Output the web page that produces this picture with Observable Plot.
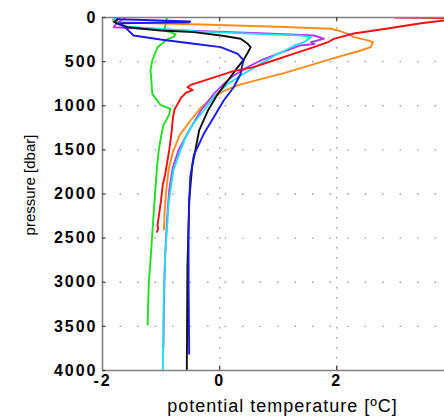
<!DOCTYPE html>
<html><head><meta charset="utf-8">
<script src="https://cdn.jsdelivr.net/npm/d3@7"></script>
<script src="https://cdn.jsdelivr.net/npm/@observablehq/plot@0.6"></script>
<style>
html,body{margin:0;padding:0;background:#fff;overflow:hidden}
</style>
</head><body><div id="chart"></div>
<script>
// potential temperature [ºC] / pressure [dbar] per profile
const greenT = [-0.90,-0.92,-0.95,-0.84,-0.75,-0.79,-0.89,-1.06,-1.15,-1.18,-1.17,-1.15,-1.01,-0.84,-0.86,-0.96,-1.00,-1.04,-1.07,-1.09,-1.12,-1.15,-1.18,-1.21,-1.23];
const greenP = [0,71,147,166,190,223,245,336,487,600,676,865,990,1035,1100,1220,1350,1507,1700,1885,2150,2450,2750,3014,3480];
const orangeT = [-1.70,-1.82,-1.81,-0.32,1.00,1.90,2.02,2.19,2.29,2.53,2.62,2.58,2.41,1.95,1.50,1.10,0.75,0.30,0.05,-0.15,-0.32,-0.50,-0.68,-0.80,-0.87,-0.91,-0.94,-0.95];
const orangeP = [0,30,53,80,105,128,147,185,223,260,280,336,374,460,550,630,690,770,840,930,1020,1170,1330,1530,1720,1950,2200,2400];
const magentaT = [-1.60,-1.75,-1.81,-0.50,0.80,1.61,1.78,1.56,1.62,1.38,1.20,0.99,0.70,0.48,0.24,0.07,-0.10,-0.32,-0.55,-0.70,-0.80,-0.86,-0.90,-0.93,-0.95,-0.96];
const magentaP = [0,60,110,150,180,204,241,280,300,317,360,411,487,563,657,752,865,1054,1315,1500,1700,1950,2300,2700,3200,3740];
const cyanT = [-1.70,-1.82,-1.75,-1.60,-0.30,0.60,1.40,1.56,1.44,1.27,1.10,0.99,0.70,0.41,0.14,-0.10,-0.27,-0.45,-0.58,-0.69,-0.79,-0.87,-0.90,-0.93,-0.95,-0.96,-0.97];
const cyanP = [0,20,60,100,160,185,205,225,280,320,380,411,525,638,752,903,1054,1200,1356,1545,1734,2100,2414,2700,3014,3500,4000];
const blackT = [-1.75,-1.72,-1.80,-1.74,-1.57,-1.01,-0.44,0.02,0.36,0.48,0.53,0.48,0.41,0.31,0.14,-0.03,-0.20,-0.35,-0.47,-0.52,-0.55,-0.56];
const blackP = [0,10,50,71,110,147,166,204,241,298,336,400,480,563,714,865,1054,1280,1696,2074,2830,4000];
const blueT = [-1.75,-1.70,-0.50,-0.53,-1.72,-1.60,-1.47,-1.01,-0.44,0.02,0.31,0.41,0.38,0.36,0.24,0.07,-0.10,-0.27,-0.44,-0.50,-0.52,-0.53,-0.53,-0.52];
const blueP = [0,20,45,55,65,120,204,250,298,336,411,487,560,638,790,940,1130,1318,1560,1800,2100,2450,3000,3810];
const redT = [3.00,4.30,3.83,3.44,2.87,2.29,1.95,1.85,1.61,1.27,0.92,0.58,0.22,-0.12,-0.48,-0.55,-0.46,-0.57,-0.66,-0.72,-0.77,-0.80,-0.82,-0.86,-0.91,-0.93,-0.97,-1.00,-1.04,-1.06,-1.05,-1.07];
const redP = [0,8,34,65,125,181,242,280,336,410,487,563,610,685,760,790,822,850,910,985,1040,1150,1300,1500,1700,1780,1890,2070,2260,2350,2400,2430];

const profiles = [
  {name: "green", color: "#22dd22", T: greenT, P: greenP},
  {name: "orange", color: "#ff8c1a", T: orangeT, P: orangeP},
  {name: "magenta", color: "#b03cf0", T: magentaT, P: magentaP},
  {name: "cyan", color: "#20e0f0", T: cyanT, P: cyanP},
  {name: "black", color: "#111111", T: blackT, P: blackP},
  {name: "blue", color: "#1a1ae6", T: blueT, P: blueP},
  {name: "red", color: "#f01010", T: redT, P: redP}
];
const rows = profiles.flatMap(p => p.T.map((t, i) => ({name: p.name, color: p.color, T: t, P: p.P[i]})));

const xTicks = [-2, 0, 2];
const yTicks = [0, 500, 1000, 1500, 2000, 2500, 3000, 3500, 4000];
const xGrid = [0, 2];
const yGrid = [500, 1000, 1500, 2000, 2500, 3000, 3500];
const xLabel = "potential temperature [ºC]";
const yLabel = "pressure [dbar]";

const chart = Plot.plot({
  width: 444, height: 416,
  marginLeft: 102, marginRight: 0, marginTop: 17, marginBottom: 46,
  style: {fontFamily: "'Liberation Sans', Arial, sans-serif", fontSize: "16px", color: "#000", background: "#fff"},
  x: {domain: [-2, 3.84]},
  y: {domain: [0, 4000], reverse: true},
  marks: [
    Plot.ruleY(yGrid, {x1: -1.7, x2: 3.84, stroke: "#999", strokeWidth: 1.3, strokeDasharray: "1.5,16"}),
    Plot.ruleX(xGrid, {stroke: "#999", strokeWidth: 1.3, strokeDasharray: "1.5,8.5"}),
    Plot.line(rows, {x: "T", y: "P", z: "name", stroke: "color", strokeWidth: 1.9, clip: true}),
    Plot.ruleX([-2], {stroke: "#808080", strokeWidth: 1.6}),
    Plot.ruleY([0, 4000], {stroke: "#808080", strokeWidth: 1.6}),
    Plot.ruleY(yTicks, {x1: -2, x2: -1.94, stroke: "#444", strokeWidth: 1.3}),
    Plot.ruleX(xGrid, {y1: 0, y2: 50, stroke: "#444", strokeWidth: 1.3}),
    Plot.ruleX(xGrid, {y1: 4000, y2: 3950, stroke: "#444", strokeWidth: 1.3}),
    Plot.axisX(xTicks, {tickSize: 0, tickPadding: 4, fontWeight: "bold", fontSize: 16, label: null, tickFormat: d => d < 0 ? "-" + Math.abs(d) : String(d)}),
    Plot.axisY(yTicks, {tickSize: 0, tickPadding: 5, fontWeight: "bold", fontSize: 16, label: null, tickFormat: d => String(d)}),
    Plot.text([xLabel], {frameAnchor: "bottom", dy: 36, dx: 9, fontSize: 18, lineAnchor: "middle", textAnchor: "middle"}),
    Plot.text([yLabel], {frameAnchor: "left", dx: -72, dy: -9, rotate: -90, fontSize: 15, lineAnchor: "middle", textAnchor: "middle"})
  ]
});
document.getElementById("chart").appendChild(chart);
const svg = d3.select(chart);
svg.selectAll('g[aria-label="x-axis tick label"] text, g[aria-label="y-axis tick label"] text').style("letter-spacing", "2px");
svg.selectAll("text").filter(function(){ return this.textContent === xLabel; }).style("letter-spacing", "1px");
</script>
</body></html>
